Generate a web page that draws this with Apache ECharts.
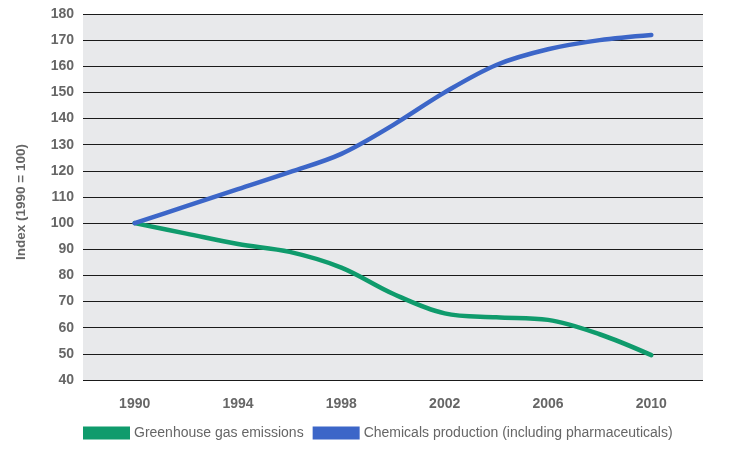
<!DOCTYPE html>
<html><head><meta charset="utf-8">
<script src="https://cdn.jsdelivr.net/npm/echarts@6/dist/echarts.min.js"></script>
<style>html,body{margin:0;padding:0;background:#fff}#c{width:733px;height:457px}</style>
</head><body><div id="c"></div>
<script>
const years = [1990, 1992, 1994, 1996, 1998, 2000, 2002, 2004, 2006, 2008, 2010];
const greenhouse = [100, 96, 92, 89, 83, 73, 65.5, 64, 63, 57.5, 49.5];
const chemicals = [100, 106.5, 113, 119.5, 126.5, 137.5, 150, 160.5, 166.5, 170, 172];
const seriesNames = ['Greenhouse gas emissions', 'Chemicals production (including pharmaceuticals)'];
const yAxisTitle = 'Index (1990 = 100)';

const font = 'Liberation Sans';
const chart = echarts.init(document.getElementById('c'));
chart.setOption({
  animation: false,
  backgroundColor: '#fff',
  grid: { left: 83, right: 30, top: 14, bottom: 77, show: true, backgroundColor: '#e8e9eb', borderWidth: 0 },
  legend: {
    left: 83, top: 426, padding: 0, itemWidth: 47, itemHeight: 13, itemGap: 9,
    icon: 'rect',
    textStyle: { fontFamily: font, fontSize: 14, color: '#666', padding: [0, 0, 0, -1] },
    data: seriesNames
  },
  xAxis: {
    type: 'value', min: 1988, max: 2012, interval: 2,
    axisLine: { show: false }, axisTick: { show: false }, splitLine: { show: false },
    axisLabel: {
      margin: 17, fontFamily: font, fontSize: 14, fontWeight: 'bold', color: '#666',
      formatter: v => ((v - 1990) % 4 === 0 && v >= 1990 && v <= 2010) ? String(v) : ''
    }
  },
  yAxis: {
    type: 'value', min: 40, max: 180, interval: 10,
    name: yAxisTitle, nameLocation: 'middle', nameGap: 55, nameRotate: 90,
    nameTextStyle: { fontFamily: font, fontSize: 13.5, fontWeight: 'bold', color: '#666', padding: [0, 0, 0, -10] },
    axisLine: { show: false }, axisTick: { show: false },
    axisLabel: { margin: 9, fontFamily: font, fontSize: 14, fontWeight: 'bold', color: '#666' },
    splitLine: { show: true, lineStyle: { color: '#1a1a1a', width: 1 } }
  },
  series: [
    { name: seriesNames[0], type: 'line', smooth: 0.35, showSymbol: false, color: '#0f9b6c',
      lineStyle: { width: 4.5, color: '#0f9b6c', cap: 'round' },
      data: years.map((y, i) => [y, greenhouse[i]]) },
    { name: seriesNames[1], type: 'line', smooth: 0.35, showSymbol: false, color: '#3c66c8',
      lineStyle: { width: 4.5, color: '#3c66c8', cap: 'round' },
      data: years.map((y, i) => [y, chemicals[i]]) }
  ]
});
</script></body></html>
